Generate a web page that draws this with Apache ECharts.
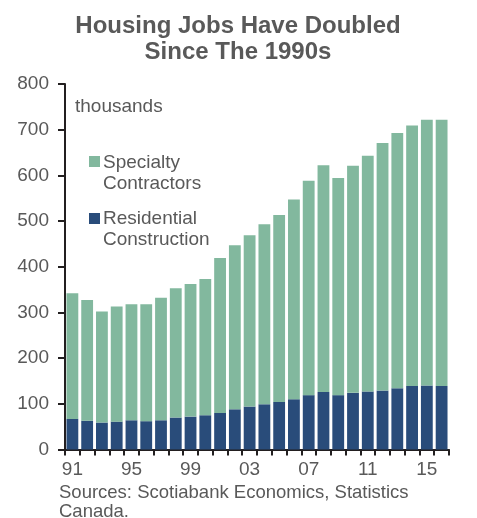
<!DOCTYPE html>
<html>
<head>
<meta charset="utf-8">
<script src="https://cdn.jsdelivr.net/npm/echarts@6/dist/echarts.min.js"></script>
<style>
html,body{margin:0;padding:0;background:#fff;}
#chart{width:477px;height:518px;}
</style>
</head>
<body>
<div id="chart"></div>
<script>
// Data (thousands of jobs), Canada
const years = ['91','92','93','94','95','96','97','98','99','00','01','02','03','04','05','06','07','08','09','10','11','12','13','14','15','16'];
const residential = [67,63,59,61,64,62,64,70,72,75,80,88,94,99,104,110,119,126,119,124,127,129,134,139,140,139];
const totalJobs = [342,327,302,313,318,318,332,353,362,373,419,447,469,493,513,547,588,622,594,621,643,671,693,709,722,722];
const specialty = totalJobs.map((t, i) => t - residential[i]);
const yTicks = [0,100,200,300,400,500,600,700,800];
const seriesNames = ['Specialty\nContractors', 'Residential\nConstruction'];
const seriesColors = ['#82b89e', '#294c7a'];

const FONT = "'Liberation Sans', Arial, sans-serif";
const GRAY = '#595959';
const chart = echarts.init(document.getElementById('chart'), null, {renderer: 'canvas'});
chart.setOption({
  animation: false,
  backgroundColor: '#fff',
  title: {
    text: 'Housing Jobs Have Doubled\nSince The 1990s',
    left: 238, textAlign: 'center', top: 13, padding: 0,
    textStyle: {fontFamily: FONT, fontSize: 24, fontWeight: 'bold', color: GRAY, lineHeight: 26}
  },
  grid: {left: 65, right: 28, top: 84, bottom: 68.5, containLabel: false},
  xAxis: {
    type: 'category', data: years, boundaryGap: true,
    axisLine: {show: true, lineStyle: {color: '#231f20', width: 2}},
    axisTick: {show: true, interval: 0, length: 6, lineStyle: {color: '#231f20', width: 2}},
    axisLabel: {interval: 3, fontFamily: FONT, fontSize: 19, color: GRAY, margin: 11}
  },
  yAxis: {
    type: 'value', min: yTicks[0], max: yTicks[yTicks.length - 1], interval: 100,
    axisLine: {show: true, lineStyle: {color: '#231f20', width: 2}},
    axisTick: {show: true, length: 7, lineStyle: {color: '#231f20', width: 2}},
    splitLine: {show: false},
    axisLabel: {fontFamily: FONT, fontSize: 19, color: GRAY, margin: 16}
  },
  graphic: [
    {type: 'text', left: 75, top: 97, style: {text: 'thousands', font: '19px ' + FONT, fill: GRAY}},
    {type: 'rect', shape: {x: 89, y: 156, width: 11, height: 11}, style: {fill: seriesColors[0]}},
    {type: 'text', left: 103, top: 152, style: {text: seriesNames[0], font: '19px ' + FONT, fill: GRAY, lineHeight: 21}},
    {type: 'rect', shape: {x: 89, y: 213, width: 11, height: 11}, style: {fill: seriesColors[1]}},
    {type: 'text', left: 103, top: 208, style: {text: seriesNames[1], font: '19px ' + FONT, fill: GRAY, lineHeight: 21}},
    {type: 'text', left: 59, top: 483, style: {text: 'Sources: Scotiabank Economics, Statistics\nCanada.', font: '18.5px ' + FONT, fill: GRAY, lineHeight: 19}}
  ],
  series: [
    {name: 'Residential Construction', type: 'bar', stack: 'jobs', data: residential,
     barCategoryGap: '20%', itemStyle: {color: seriesColors[1]}},
    {name: 'Specialty Contractors', type: 'bar', stack: 'jobs', data: specialty,
     barCategoryGap: '20%', itemStyle: {color: seriesColors[0]}}
  ]
});
</script>
</body>
</html>
